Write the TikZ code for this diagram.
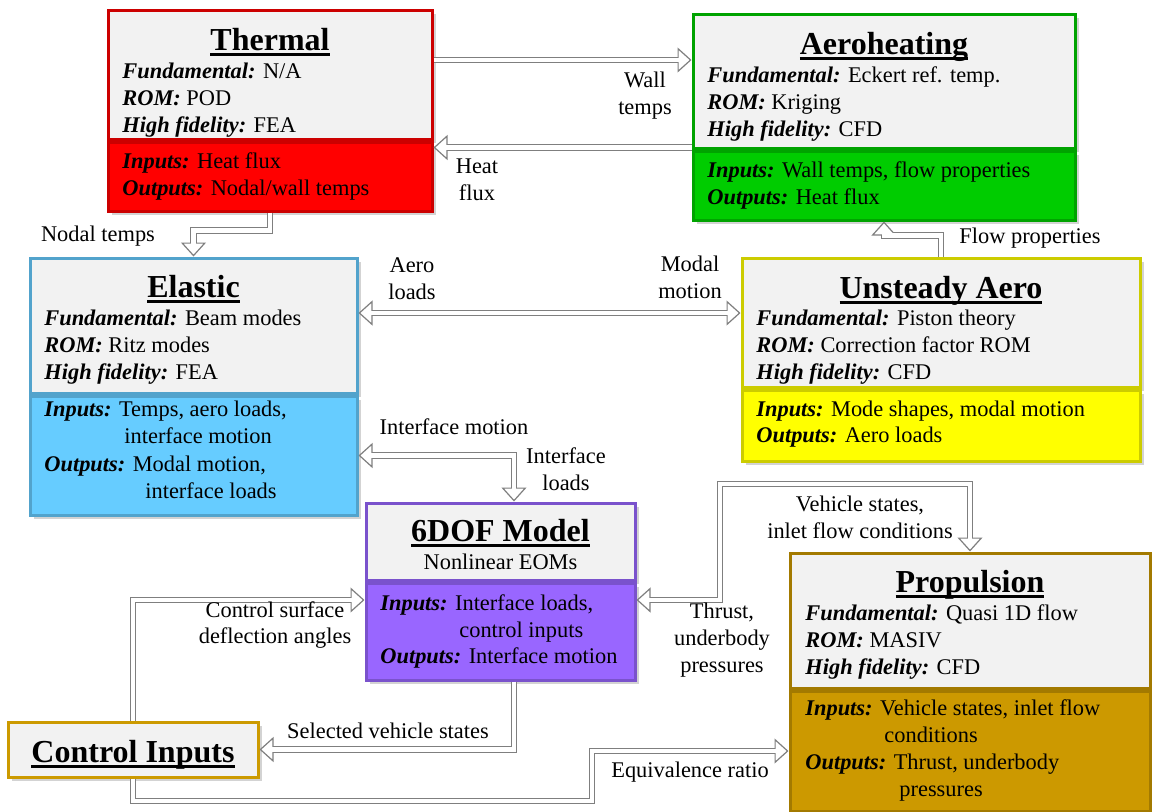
\documentclass[tikz,border=0pt]{standalone}
\usepackage{fontspec}
\setmainfont{Liberation Serif}
\usepackage{tikz}
\usetikzlibrary{arrows.meta, shadows}

\definecolor{headgray}{HTML}{F2F2F2}
\definecolor{arrowgray}{HTML}{7F7F7F}
\definecolor{thred}{HTML}{FF0000}
\definecolor{ahgreen}{HTML}{00CC00}
\definecolor{elblue}{HTML}{66CCFF}
\definecolor{uayellow}{HTML}{FFFF00}
\definecolor{dofpurple}{HTML}{9966FF}
\definecolor{prgold}{HTML}{CC9900}
\definecolor{ctrlgold}{HTML}{FFC000}

\newcommand{\kv}[2]{\textbf{\textit{#1:}} #2}
\newcommand{\boxtitle}[1]{\setbox0\hbox{#1}\rlap{\rule[-3pt]{\wd0}{1.4pt}}\box0}
\newcommand{\bodyfont}{\fontsize{11.2pt}{13.3pt}\selectfont}
\newcommand{\titlefont}{\fontsize{16pt}{19pt}\selectfont\bfseries}

\tikzset{
    hollow/.tip={Triangle[width=12.5pt, length=7pt, line width=0.6pt, fill=white]},
    part/.style={draw=#1!80!black, line width=1.5pt, inner sep=0pt,
        drop shadow={shadow xshift=2pt, shadow yshift=-2pt, opacity=0.35}},
    head/.style={part=#1, fill=headgray},
    io/.style={part=#1, fill=#1, anchor=north},
    txt/.style={anchor=base west, inner sep=0pt, font=\bodyfont},
    ttl/.style={anchor=base, inner sep=0pt, font=\titlefont},
    lbl/.style={align=center, inner sep=0pt, font=\bodyfont},
    conn/.style={draw=arrowgray, line width=3.4pt, -hollow,
        postaction={draw=white, line width=2.2pt, -, shorten >=6pt}},
    conn2/.style={draw=arrowgray, line width=3.4pt, hollow-hollow,
        postaction={draw=white, line width=2.2pt, -, shorten >=6pt, shorten <=6pt}}
}

\begin{document}
\begin{tikzpicture}[x=0.5pt, y=-0.5pt]
    \useasboundingbox (0,0) rectangle (1152,811);

    % Thermal
    \node[head=thred, minimum width=162pt, minimum height=64.5pt] (thhead) at (270,74.5) {};
    \node[io=thred, minimum width=162pt, minimum height=34.5pt] (thio) at (thhead.south) {};
    \node[ttl] (thtitle) at (270,50) {\boxtitle{Thermal}};
    \foreach \yy/\tx in {78/{\kv{Fundamental}{N/A}}, 105/{\kv{ROM}{POD}}, 132/{\kv{High fidelity}{FEA}},
        168/{\kv{Inputs}{Heat flux}}, 195/{\kv{Outputs}{Nodal/wall temps}}}
        \node[txt] (th\yy) at (122,\yy) {\tx};

    % Aeroheating
    \node[head=ahgreen, minimum width=191pt, minimum height=67pt] (ahhead) at (884,81) {};
    \node[io=ahgreen, minimum width=191pt, minimum height=34.5pt] (ahio) at (ahhead.south) {};
    \node[ttl] (ahtitle) at (884,54) {\boxtitle{Aeroheating}};
    \foreach \yy/\tx in {82/{\kv{Fundamental}{Eckert ref. temp.}}, 109/{\kv{ROM}{Kriging}}, 136/{\kv{High fidelity}{CFD}},
        177/{\kv{Inputs}{Wall temps, flow properties}}, 204/{\kv{Outputs}{Heat flux}}}
        \node[txt] (ah\yy) at (707,\yy) {\tx};

    % Elastic
    \node[head=elblue, minimum width=163.5pt, minimum height=67.5pt] (elhead) at (193.5,325.5) {};
    \node[io=elblue, minimum width=163.5pt, minimum height=59.5pt] (elio) at (elhead.south) {};
    \node[ttl] (eltitle) at (193.5,297) {\boxtitle{Elastic}};
    \foreach \yy/\tx in {325/{\kv{Fundamental}{Beam modes}}, 352/{\kv{ROM}{Ritz modes}}, 379/{\kv{High fidelity}{FEA}},
        416/{\kv{Inputs}{Temps, aero loads,}}, 443/{\hspace*{40pt}interface motion},
        471/{\kv{Outputs}{Modal motion,}}, 498/{\hspace*{50.5pt}interface loads}}
        \node[txt] (el\yy) at (44,\yy) {\tx};

    % Unsteady Aero
    \node[head=uayellow, minimum width=199pt, minimum height=64.5pt] (uahead) at (941,322.5) {};
    \node[io=uayellow, minimum width=199pt, minimum height=35.5pt] (uaio) at (uahead.south) {};
    \node[ttl] (uatitle) at (941,298) {\boxtitle{Unsteady Aero}};
    \foreach \yy/\tx in {325/{\kv{Fundamental}{Piston theory}}, 352/{\kv{ROM}{Correction factor ROM}}, 379/{\kv{High fidelity}{CFD}},
        416/{\kv{Inputs}{Mode shapes, modal motion}}, 442/{\kv{Outputs}{Aero loads}}}
        \node[txt] (ua\yy) at (756,\yy) {\tx};

    % 6DOF Model
    \node[head=dofpurple, minimum width=134.5pt, minimum height=38.5pt] (dofhead) at (500.5,541.5) {};
    \node[io=dofpurple, minimum width=134.5pt, minimum height=48.5pt] (dofio) at (dofhead.south) {};
    \node[ttl] (doftitle) at (500.5,541) {\boxtitle{6DOF Model}};
    \node[txt, anchor=base] (dofsub) at (500.5,569) {Nonlinear EOMs};
    \foreach \yy/\tx in {610/{\kv{Inputs}{Interface loads,}}, 637/{\hspace*{39.5pt}control inputs},
        663/{\kv{Outputs}{Interface motion}}}
        \node[txt] (dof\yy) at (380,\yy) {\tx};

    % Propulsion
    \node[head=prgold, minimum width=180pt, minimum height=67.5pt] (prhead) at (970,620.5) {};
    \node[io=prgold, minimum width=180pt, minimum height=60pt] (prio) at (prhead.south) {};
    \node[ttl] (prtitle) at (970,592) {\boxtitle{Propulsion}};
    \foreach \yy/\tx in {620/{\kv{Fundamental}{Quasi 1D flow}}, 647/{\kv{ROM}{MASIV}}, 674/{\kv{High fidelity}{CFD}},
        715/{\kv{Inputs}{Vehicle states, inlet flow}}, 742/{\hspace*{39.5pt}conditions},
        769/{\kv{Outputs}{Thrust, underbody}}, 796/{\hspace*{47pt}pressures}}
        \node[txt] (pr\yy) at (805,\yy) {\tx};

    % Control Inputs
    \node[head=ctrlgold, minimum width=125pt, minimum height=27.5pt] (ctrl) at (133,749.5) {};
    \node[ttl] (ctrltitle) at (133,762) {\boxtitle{Control Inputs}};

    % connectors
    \draw[conn] ([yshift=7.25pt]thhead.east) -- ([yshift=7.25pt]thhead.east -| ahhead.west);
    \draw[conn] ([yshift=1pt]ahio.north west) -- ([yshift=1pt]ahio.north west -| thio.east);
    \draw[conn] (thio.south) -- ++(0,-9pt) -| (elhead.north);
    \draw[conn2] ([yshift=6.25pt]elhead.east) -- ([yshift=6.25pt]elhead.east -| uahead.west);
    \draw[conn] (uahead.north) -- ++(0,10.5pt) -| (ahio.south);
    \draw[conn2] (elio.east) -| ([xshift=6.75pt]dofhead.north);
    \draw[conn] (ctrl.north) |- ([yshift=15.75pt]dofio.west);
    \draw[conn] ([xshift=6.75pt]dofio.south) |- (ctrl.east);
    \coordinate (eqbend) at (592,801);
    \draw[conn] (ctrl.south) |- (eqbend) |- (prio.west);
    \coordinate (vsbend) at (720,484);
    \draw[conn2] ([yshift=15.75pt]dofio.east) -| (vsbend) -| (prhead.north);

    % connector labels
    \node[lbl] (walltemps) at (645,95.5) {Wall\\temps};
    \node[lbl] (heatflux) at (477,179.5) {Heat\\flux};
    \node[lbl] (nodaltemps) at (98,236) {Nodal temps};
    \node[lbl] (aeroloads) at (412,279) {Aero\\loads};
    \node[lbl] (modalmotion) at (690,277.5) {Modal\\motion};
    \node[lbl] (flowprops) at (1030,238) {Flow properties};
    \node[lbl] (ifmotion) at (454,427) {Interface motion};
    \node[lbl] (ifloads) at (566,469.5) {Interface\\loads};
    \node[lbl] (ctrlsurf) at (275,625) {Control surface\\deflection angles};
    \node[lbl] (selstates) at (388,731) {Selected vehicle states};
    \node[lbl] (eqratio) at (690,772) {Equivalence ratio};
    \node[lbl] (vehstates) at (860,517.5) {Vehicle states,\\inlet flow conditions};
    \node[lbl] (thrust) at (722,640) {Thrust,\\underbody\\pressures};
\end{tikzpicture}
\end{document}
